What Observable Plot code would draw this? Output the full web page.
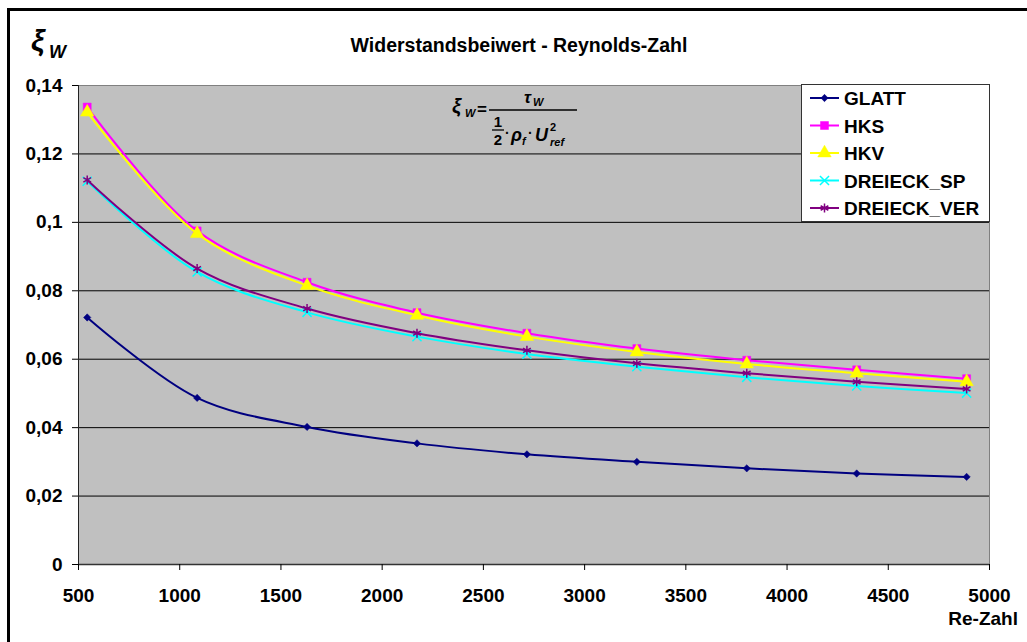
<!DOCTYPE html>
<html>
<head>
<meta charset="utf-8">
<script src="https://cdn.jsdelivr.net/npm/d3@7"></script>
<script src="https://cdn.jsdelivr.net/npm/@observablehq/plot@0.6"></script>
<style>
  html, body { margin: 0; padding: 0; overflow: hidden; background: #fff; }
  #wrap { position: relative; width: 1027px; height: 642px; overflow: hidden; }
  #border { position: absolute; left: 7px; top: 8px; width: 1100px; height: 700px; border: 3px solid #000; box-sizing: border-box; }
  #chart { position: absolute; left: 0; top: 0; }
  #overlay { position: absolute; left: 0; top: 0; }
  text { font-family: "Liberation Sans", Arial, sans-serif; }
</style>
</head>
<body>
<div id="wrap">
  <div id="border"></div>
  <div id="chart"></div>
  <svg id="overlay" width="1027" height="642"></svg>
</div>
<script>
// ---- data ----
const reZahl = [543, 1086, 1629, 2172, 2715, 3258, 3801, 4344, 4887];
const glatt      = [0.0722, 0.0487, 0.0402, 0.0354, 0.0322, 0.0300, 0.0281, 0.0266, 0.0256];
const hks        = [0.1337, 0.0975, 0.0825, 0.0736, 0.0676, 0.0631, 0.0597, 0.0569, 0.0543];
const hkv        = [0.1322, 0.0967, 0.0815, 0.0728, 0.0666, 0.0621, 0.0586, 0.0559, 0.0534];
const dreieckSp  = [0.1120, 0.0855, 0.0737, 0.0666, 0.0615, 0.0578, 0.0547, 0.0522, 0.0501];
const dreieckVer = [0.1124, 0.0865, 0.0748, 0.0676, 0.0626, 0.0588, 0.0559, 0.0534, 0.0513];
const seriesNames = ["GLATT", "HKS", "HKV", "DREIECK_SP", "DREIECK_VER"];
const xTicks = [500, 1000, 1500, 2000, 2500, 3000, 3500, 4000, 4500, 5000];
const yTicks = [0, 0.02, 0.04, 0.06, 0.08, 0.1, 0.12, 0.14];
const titleText = "Widerstandsbeiwert - Reynolds-Zahl";
const xLabelText = "Re-Zahl";

// ---- styles ----
const seriesValues = [glatt, hks, hkv, dreieckSp, dreieckVer];
const seriesStyle = [
  {color: "#000080", symbol: "diamond2", r: 3.3, filled: true},
  {color: "#FF00FF", symbol: "square", r: 4.5, filled: true},
  {color: "#FFFF00", symbol: "triangle", r: 5, filled: true},
  {color: "#00FFFF", symbol: "times", r: 4.2, filled: false},
  {color: "#800080", symbol: "asterisk", r: 4.2, filled: false}
];

const data = seriesNames.flatMap((name, s) =>
  reZahl.map((x, i) => ({series: name, x, y: seriesValues[s][i]})));

const fmtY = d => d === 0 ? "0" : String(+d.toFixed(2)).replace(".", ",");

const seriesMarks = seriesNames.flatMap((name, s) => {
  const st = seriesStyle[s];
  const rows = data.filter(d => d.series === name);
  return [
    Plot.line(rows, {x: "x", y: "y", stroke: st.color, strokeWidth: 2, curve: "catmull-rom"}),
    Plot.dot(rows, {x: "x", y: "y", symbol: st.symbol, r: st.r,
      fill: st.filled ? st.color : "none", stroke: st.color, strokeWidth: st.filled ? 0.5 : 1.5})
  ];
});

const chart = Plot.plot({
  width: 1027, height: 642,
  marginLeft: 78, marginRight: 38, marginTop: 85, marginBottom: 78,
  x: {domain: [500, 5000]},
  y: {domain: [0, 0.14]},
  style: {fontFamily: "'Liberation Sans', Arial, sans-serif", fontSize: "19px", fontWeight: "bold", color: "#000", background: "transparent", overflow: "visible"},
  marks: [
    Plot.frame({fill: "#c0c0c0", stroke: "#808080"}),
    Plot.ruleY(yTicks.filter(d => d > 0 && d < 0.14), {stroke: "#000", strokeWidth: 1}),
    Plot.ruleX([500], {stroke: "#222", strokeWidth: 1}),
    Plot.ruleY([0], {stroke: "#333", strokeWidth: 1.5}),
    Plot.axisX({ticks: xTicks, tickSize: 6, tickPadding: 18, tickFormat: d => String(d), label: null, stroke: "#000", fontSize: 19, fontWeight: "bold"}),
    Plot.axisY({ticks: yTicks, tickSize: 6, tickPadding: 10, tickFormat: fmtY, label: null, stroke: "#000", fontSize: 19, fontWeight: "bold"}),
    ...seriesMarks
  ]
});
document.getElementById("chart").appendChild(chart);

// ---- overlay: title, axis symbols, formula, legend ----
const ov = d3.select("#overlay");
ov.append("text").attr("x", 519).attr("y", 52).attr("text-anchor", "middle")
  .attr("font-size", 19.5).attr("font-weight", "bold").text(titleText);
ov.append("text").attr("x", 1018).attr("y", 625).attr("text-anchor", "end")
  .attr("font-size", 19).attr("font-weight", "bold").text(xLabelText);

// y-axis symbol ξ_W
const fserif = "'DejaVu Serif', serif";
ov.append("text").attr("x", 31).attr("y", 51)
  .attr("font-family", fserif).attr("font-style", "italic").attr("font-weight", "bold")
  .attr("font-size", 30).text("ξ");
ov.append("text").attr("x", 49).attr("y", 58)
  .attr("font-family", fserif).attr("font-style", "italic").attr("font-weight", "bold")
  .attr("font-size", 18).text("W");

// formula ξ_W = τ_W / (1/2 · ρ_f · U²_ref)
ov.append("text").attr("x", 452).attr("y", 113).attr("font-family", fserif).attr("font-weight", "bold").attr("font-style", "italic").attr("font-size", 20).text("ξ");
ov.append("text").attr("x", 465).attr("y", 117).attr("font-family", fserif).attr("font-weight", "bold").attr("font-style", "italic").attr("font-size", 11).text("W");
ov.append("text").attr("x", 477).attr("y", 115).attr("font-family", fserif).attr("font-weight", "bold").attr("font-size", 17).text("=");
ov.append("line").attr("x1", 489).attr("x2", 577).attr("y1", 110).attr("y2", 110).attr("stroke", "#000").attr("stroke-width", 1.5);
ov.append("text").attr("x", 524).attr("y", 103).attr("font-family", fserif).attr("font-weight", "bold").attr("font-style", "italic").attr("font-size", 17).text("τ");
ov.append("text").attr("x", 533).attr("y", 106).attr("font-family", fserif).attr("font-weight", "bold").attr("font-style", "italic").attr("font-size", 11).text("W");
ov.append("text").attr("x", 498).attr("y", 127).attr("text-anchor", "middle").attr("font-family", fserif).attr("font-weight", "bold").attr("font-size", 15).text("1");
ov.append("line").attr("x1", 492).attr("x2", 504).attr("y1", 130).attr("y2", 130).attr("stroke", "#000").attr("stroke-width", 1.3);
ov.append("text").attr("x", 498).attr("y", 145).attr("text-anchor", "middle").attr("font-family", fserif).attr("font-weight", "bold").attr("font-size", 15).text("2");
ov.append("text").attr("x", 505).attr("y", 138).attr("font-family", fserif).attr("font-weight", "bold").attr("font-size", 14).text("·");
ov.append("text").attr("x", 511).attr("y", 141).attr("font-family", fserif).attr("font-weight", "bold").attr("font-style", "italic").attr("font-size", 18).text("ρ");
ov.append("text").attr("x", 522).attr("y", 145).attr("font-family", fserif).attr("font-weight", "bold").attr("font-style", "italic").attr("font-size", 11).text("f");
ov.append("text").attr("x", 528).attr("y", 138).attr("font-family", fserif).attr("font-weight", "bold").attr("font-size", 14).text("·");
ov.append("text").attr("x", 535).attr("y", 141).attr("font-family", fserif).attr("font-weight", "bold").attr("font-style", "italic").attr("font-size", 18).text("U");
ov.append("text").attr("x", 550).attr("y", 131).attr("font-family", fserif).attr("font-weight", "bold").attr("font-size", 11).text("2");
ov.append("text").attr("x", 550).attr("y", 146).attr("font-family", fserif).attr("font-weight", "bold").attr("font-style", "italic").attr("font-size", 11).text("ref");

// legend
const lg = ov.append("g");
lg.append("rect").attr("x", 801.5).attr("y", 84.5).attr("width", 188).attr("height", 137)
  .attr("fill", "#fff").attr("stroke", "#333").attr("stroke-width", 1);
const symMap = {diamond2: d3.symbolDiamond2, square: d3.symbolSquare, triangle: d3.symbolTriangle, times: d3.symbolTimes, asterisk: d3.symbolAsterisk};
seriesNames.forEach((name, i) => {
  const st = seriesStyle[i];
  const cy = 98 + i * 27.5;
  lg.append("line").attr("x1", 810).attr("x2", 839).attr("y1", cy).attr("y2", cy)
    .attr("stroke", st.color).attr("stroke-width", 2);
  lg.append("path").attr("transform", `translate(824.5,${cy})`)
    .attr("d", d3.symbol(symMap[st.symbol], Math.PI * st.r * st.r)())
    .attr("fill", st.filled ? st.color : "none").attr("stroke", st.color).attr("stroke-width", st.filled ? 0.5 : 1.5);
  lg.append("text").attr("x", 844).attr("y", cy + 7).attr("font-size", 19).attr("font-weight", "bold").text(name);
});
</script>
</body>
</html>
